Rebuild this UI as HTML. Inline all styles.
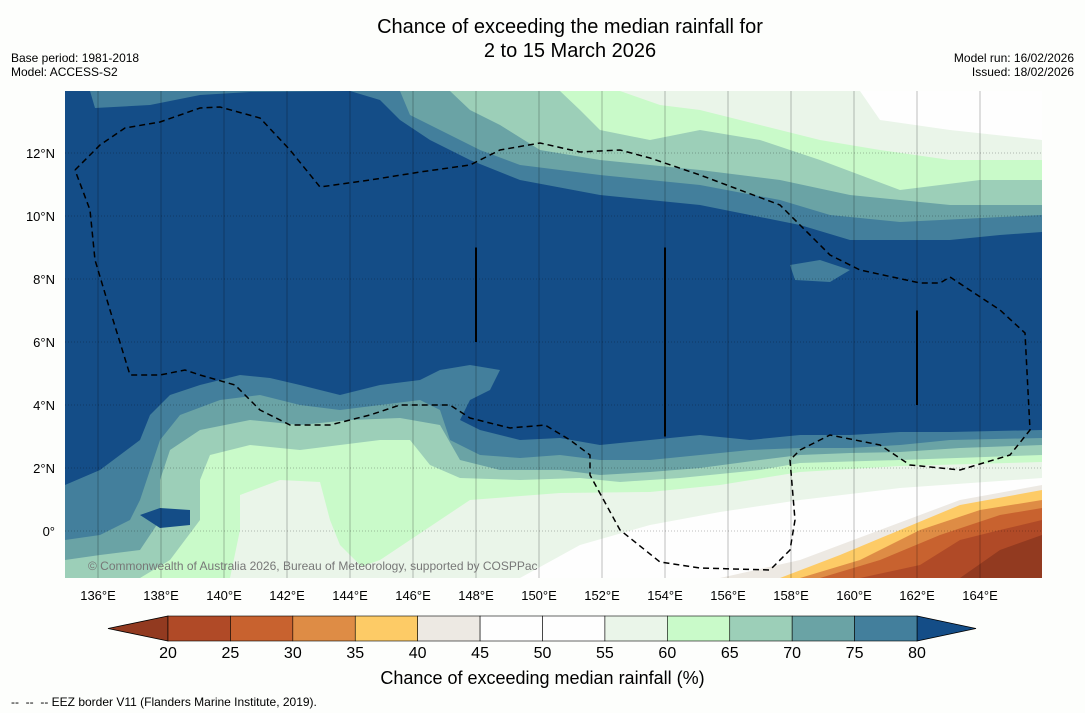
<!DOCTYPE html>
<html><head><meta charset="utf-8"><style>
body{margin:0;background:#fdfefc;font-family:"Liberation Sans",sans-serif;}
#wrap{position:relative;width:1085px;height:713px;overflow:hidden;background:#fdfefc;}
.t{position:absolute;color:#000;white-space:nowrap;}
</style></head><body>
<div id="wrap">
<div class="t" style="left:0;width:1140px;text-align:center;top:15px;font-size:20px;line-height:24px;">Chance of exceeding the median rainfall for<br>2 to 15 March 2026</div>
<div class="t" style="left:11px;top:51px;font-size:12px;line-height:14px;">Base period: 1981-2018<br>Model: ACCESS-S2</div>
<div class="t" style="right:11px;top:51px;font-size:12px;line-height:14px;text-align:right;">Model run: 16/02/2026<br>Issued: 18/02/2026</div>
<svg id="svg" width="1085" height="713" style="position:absolute;left:0;top:0"></svg>
<div class="t" style="left:0;width:1085px;text-align:center;top:668px;font-size:18px;">Chance of exceeding median rainfall (%)</div>
<div class="t" style="left:11px;top:695px;font-size:12px;">-- &nbsp;-- &nbsp;-- EEZ border V11 (Flanders Marine Institute, 2019).</div>
</div>
<script>
const lonTicks=[136,138,140,142,144,146,148,150,152,154,156,158,160,162,164];
const latTicks=[0,2,4,6,8,10,12];
const cbLevels=[20,25,30,35,40,45,50,55,60,65,70,75,80];
const cbColors=["#b04a27","#c8622f","#de8c45","#fdcb66","#ede9e3","#fefefe","#fefefe","#eaf5e9","#c9fac9","#9ccfb8","#6aa3a5","#437f9c"];
const NS="http://www.w3.org/2000/svg";
const svg=document.getElementById('svg');
const X0=65,X1=1042,Y0=91,Y1=578;
const xLon=l=>98+(l-136)*31.5, yLat=l=>531-l*31.5;
function el(tag,a,p){const e=document.createElementNS(NS,tag);for(const k in a)e.setAttribute(k,a[k]);(p||svg).appendChild(e);return e;}
const defs=el('defs',{});const cp=el('clipPath',{id:'mc'},defs);el('rect',{x:X0,y:Y0,width:X1-X0,height:Y1-Y0},cp);
const g=el('g',{'clip-path':'url(#mc)'});

el('rect',{x:X0,y:Y0,width:X1-X0,height:Y1-Y0,fill:'#144d87'},g);
const south=[
["#437f9c","65,485 100,470 140,440 150,415 170,395 200,385 240,375 270,378 300,385 340,395 380,385 420,380 440,370 470,365 500,370 490,390 470,400 460,420 480,430 520,440 560,438 600,445 650,440 700,435 750,440 800,435 850,435 900,432 950,432 1042,430"],
["#6aa3a5","65,540 100,535 130,520 140,500 150,470 160,440 180,415 220,400 260,395 300,405 340,410 380,405 420,400 440,410 450,440 480,455 520,458 560,455 600,460 650,460 700,455 750,450 800,448 850,448 900,445 950,440 1042,438"],
["#9ccfb8","65,560 100,555 140,550 160,520 160,480 170,450 200,430 250,420 300,425 350,420 400,418 440,425 460,460 500,470 560,470 600,475 650,472 700,468 760,460 800,455 850,453 900,452 960,448 1042,445"],
["#c9fac9","140,578 170,560 200,520 200,480 210,455 250,445 300,450 340,445 380,440 410,440 430,465 460,478 520,480 580,478 620,482 680,478 760,470 800,463 900,460 1042,455"],
["#eaf5e9","330,578 380,560 440,520 470,500 560,493 650,492 720,485 800,472 900,466 1042,462"],
["#fefefe","520,578 580,545 650,525 720,512 800,500 900,488 1042,478"],
["#ede9e3","720,578 800,560 880,530 960,500 1042,485"],
["#fdcb66","780,578 840,555 900,530 960,505 1042,490"],
["#de8c45","800,578 860,560 920,530 980,510 1042,500"],
["#c8622f","820,578 880,560 940,535 1000,515 1042,508"],
["#b04a27","860,578 920,565 960,540 1000,530 1042,520"],
["#923a20","960,578 1000,550 1042,535"]];
south.forEach((s,i)=>{const p=el('polygon',{points:s[1]+' 1042,578 '+s[1].split(' ')[0].split(',')[0]+',578',fill:s[0]},g);
});
const blob=el('polygon',{points:"230,578 240,530 240,495 280,480 320,482 330,520 340,545 360,565 380,578",fill:"#eaf5e9"},g);

const blue=el('polygon',{points:"140,515 160,508 190,510 190,525 160,528",fill:"#144d87"},g);

const north=[
["#437f9c","90,91 95,108 150,105 200,95 250,92 350,91 380,100 400,120 430,140 470,160 520,180 600,195 700,205 800,225 850,240 900,240 950,240 1000,235 1042,232"],
["#6aa3a5","400,91 410,115 440,130 480,150 520,165 600,175 700,185 780,200 830,215 900,222 1042,215"],
["#9ccfb8","450,91 470,110 500,125 540,150 600,160 700,170 780,180 850,195 950,205 1042,205"],
["#c9fac9","560,91 580,110 600,130 650,140 700,130 760,140 820,160 900,190 980,180 1042,180"],
["#eaf5e9","620,91 660,105 700,110 760,125 820,140 880,150 950,160 1042,160"],
["#fefefe","860,91 880,120 950,130 1042,140"]];
north.forEach((s,i)=>{const p=el('polygon',{points:s[1]+' 1042,91',fill:s[0]},g);
});
const pt=el('polygon',{points:"790,265 820,260 850,270 830,282 795,280",fill:"#437f9c"},g);

lonTicks.forEach(l=>{const x=xLon(l);const ln=el('line',{x1:x,x2:x,y1:Y0,y2:Y1,stroke:'rgba(0,0,0,0.25)','stroke-width':1},g);

const t=el('text',{x:x,y:600,'font-size':13,'text-anchor':'middle','font-family':'Liberation Sans'});t.textContent=l+'°E';
});
latTicks.forEach(l=>{const y=yLat(l);const ln=el('line',{x1:X0,x2:X1,y1:y,y2:y,stroke:'rgba(0,0,0,0.25)','stroke-width':1,'stroke-dasharray':'1,2'},g);

const t=el('text',{x:55,y:y+5,'font-size':13,'text-anchor':'end','font-family':'Liberation Sans'});t.textContent=l===0?'0°':l+'°N';
});
[[148,9,6],[154,9,3],[162,7,4]].forEach(b=>{const ln=el('line',{x1:xLon(b[0]),x2:xLon(b[0]),y1:yLat(b[1]),y2:yLat(b[2]),stroke:'#000','stroke-width':2},g);
});
const eez=el('polyline',{points:"75,170 100,145 125,128 160,122 200,108 220,107 260,118 290,150 320,187 370,180 420,172 470,165 500,150 540,143 580,152 620,150 650,158 700,175 740,190 780,205 800,225 830,255 860,270 920,283 940,283 950,277 1000,310 1025,333 1030,430 1010,455 960,470 910,465 880,445 830,435 800,450 790,460 795,520 790,550 770,570 700,568 660,562 620,530 590,475 590,455 570,440 545,425 510,428 470,418 450,405 400,405 370,415 330,425 290,425 260,410 235,385 200,375 185,370 160,375 130,375 110,310 95,260 90,210 75,170",fill:'none',stroke:'#000','stroke-width':1.5,'stroke-dasharray':'6,4'},g);

const cr=el('text',{x:88,y:570,'font-size':12,fill:'#777','font-family':'Liberation Sans'},g);cr.textContent='© Commonwealth of Australia 2026, Bureau of Meteorology, supported by COSPPac';

const cbX0=168,cbX1=917,cbY=616,cbH=25,w=(cbX1-cbX0)/cbColors.length;
const lt=el('polygon',{points:`108,${cbY+cbH/2} ${cbX0},${cbY} ${cbX0},${cbY+cbH}`,fill:'#923a20',stroke:'#000','stroke-width':0.8});

const rt=el('polygon',{points:`976,${cbY+cbH/2} ${cbX1},${cbY} ${cbX1},${cbY+cbH}`,fill:'#144d87',stroke:'#000','stroke-width':0.8});

cbColors.forEach((c,i)=>{const r=el('rect',{x:cbX0+i*w,y:cbY,width:w,height:cbH,fill:c,stroke:'#000','stroke-width':0.6});
});
cbLevels.forEach((v,i)=>{const t=el('text',{x:cbX0+i*w,y:658,'font-size':16,'text-anchor':'middle','font-family':'Liberation Sans'});t.textContent=v;
});
</script>
</body></html>
